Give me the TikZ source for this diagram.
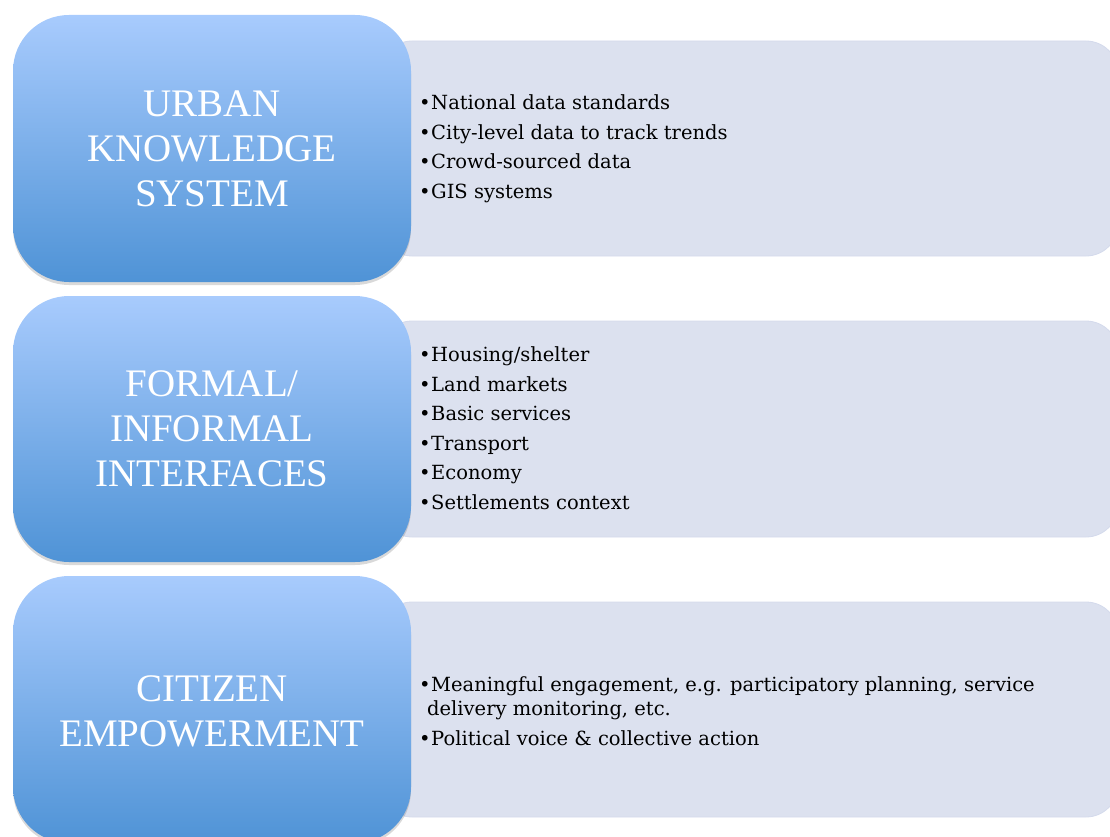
\documentclass[tikz,border=0pt]{standalone}
\usepackage{fontspec}
\setmainfont{Liberation Serif}
\newfontfamily\listfont{DejaVu Serif}
\usetikzlibrary{shadows}
\definecolor{bluetop}{RGB}{168,203,253}
\definecolor{bluebot}{RGB}{79,147,214}
\definecolor{greyfill}{RGB}{220,225,239}
\definecolor{greyline}{RGB}{212,218,236}
\tikzset{
  catbox/.style={rounded corners=56pt, top color=bluetop, bottom color=bluebot, draw=none,
    drop shadow={shadow xshift=0pt, shadow yshift=-3pt, opacity=0.25, fill=black!60}},
  listbox/.style={rounded corners=32pt, fill=greyfill, draw=greyline, line width=0.8pt},
  cattext/.style={text=white, align=center, font=\fontsize{39}{45}\selectfont, inner sep=0pt},
  listtext/.style={anchor=west, align=left, font=\listfont\fontsize{19.5}{29.5}\selectfont, inner sep=0pt, text=black}
}
\newcommand{\itm}{\makebox[12pt][l]{\textbullet}}
\begin{document}
\begin{tikzpicture}[x=1pt,y=-1pt]
\useasboundingbox (0,0) rectangle (1110,837);
\begin{scope}
\clip (0,0) rectangle (1110,837);
% grey list boxes
\path[listbox] (380,41) rectangle (1118,256);
\path[listbox] (380,321) rectangle (1118,537);
\path[listbox] (380,602) rectangle (1118,817);
% blue category boxes
\path[catbox] (13,15) rectangle (411,282);
\path[catbox] (13,296) rectangle (411,562);
\path[catbox] (13,576) rectangle (411,843);
\end{scope}
\node[cattext] (c1) at (212,149) {URBAN\\KNOWLEDGE\\SYSTEM};
\node[cattext] (c2) at (212,429) {FORMAL/\\INFORMAL\\INTERFACES};
\node[cattext] (c3) at (212,711) {CITIZEN\\EMPOWERMENT};
\node[listtext] (l1) at (419,149) {\itm National data standards\\\itm City-level data to track trends\\\itm Crowd-sourced data\\\itm GIS systems};
\node[listtext] (l2) at (419,428) {\itm Housing/shelter\\\itm Land markets\\\itm Basic services\\\itm Transport\\\itm Economy\\\itm Settlements context};
\node[listtext] (l3) at (419,711) {\itm Meaningful engagement, e.g. participatory planning, service\\[-5pt]\hspace*{8pt}delivery monitoring, etc.\\\itm Political voice \& collective action};
\end{tikzpicture}
\end{document}
